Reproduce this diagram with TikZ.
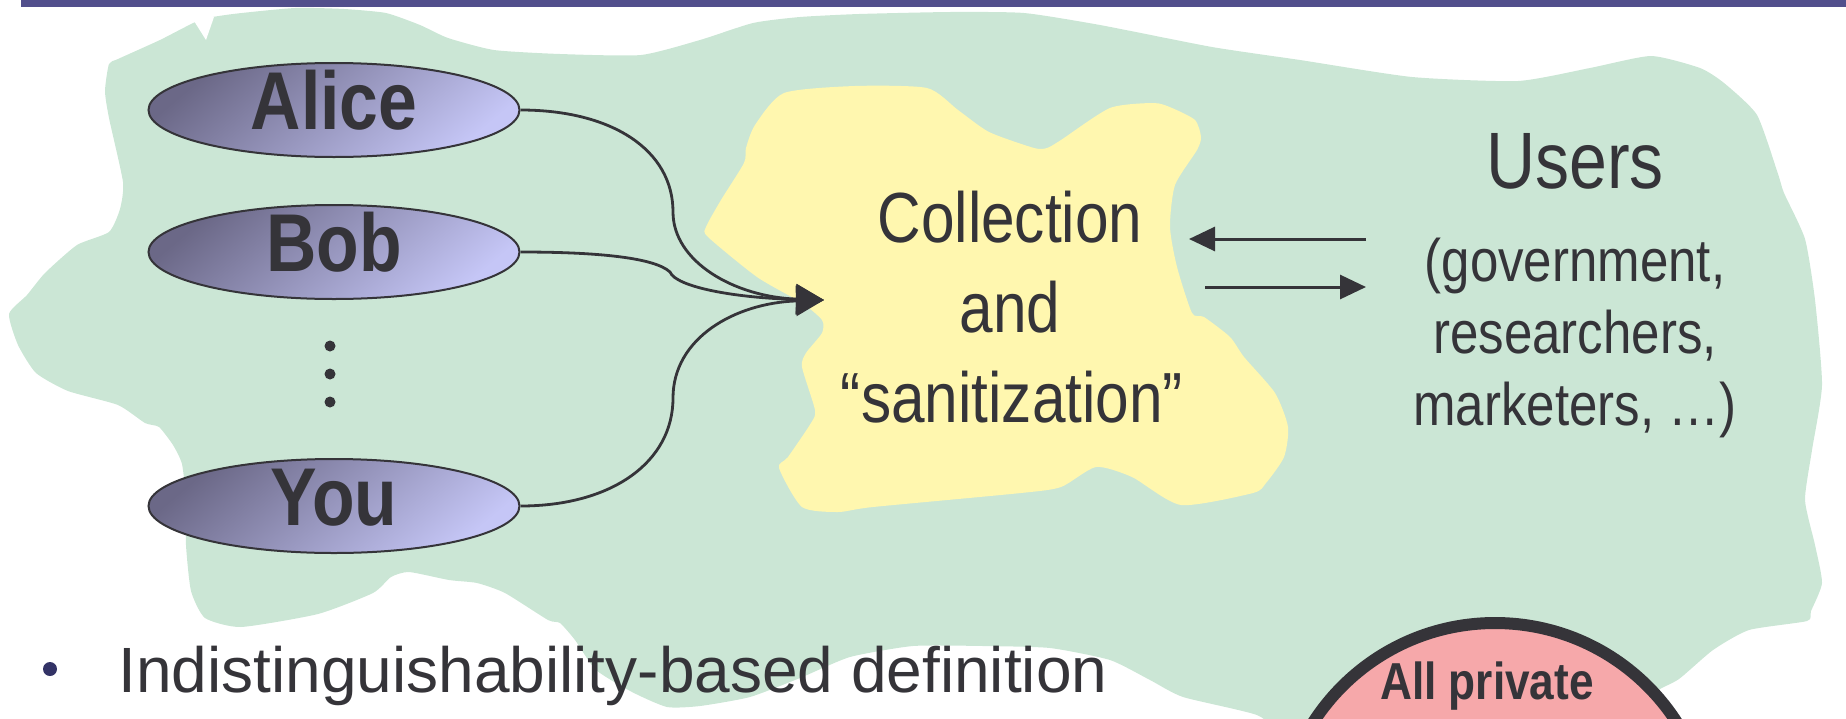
\documentclass[tikz,border=0pt]{standalone}
\usepackage{fontspec}
\setmainfont{Liberation Sans}
\newfontfamily\narrowfont[FakeStretch=0.85]{Liberation Sans}
\usetikzlibrary{arrows.meta,shapes.geometric}

\definecolor{ink}{HTML}{353439}
\definecolor{field}{HTML}{CBE6D5}
\definecolor{cloud}{HTML}{FFF7AF}
\definecolor{banner}{HTML}{524F8C}
\definecolor{rose}{HTML}{F6A8AA}
\definecolor{dotblue}{HTML}{333366}
\definecolor{elldark}{HTML}{6B6887}
\definecolor{elllight}{HTML}{C5C6F6}

\begin{document}
\begin{tikzpicture}[x=0.5pt,y=-0.5pt,
  person/.style={ellipse, draw=ink, line width=1pt, minimum width=185.5pt,
    minimum height=47pt, inner sep=0pt,
    top color=elldark, bottom color=elllight, shading angle=40},
  namelabel/.style={font=\narrowfont\bfseries\fontsize{41}{41}\selectfont,
    text=ink, inner sep=0pt, anchor=base},
  midtext/.style={font=\narrowfont\fontsize{35.5}{40}\selectfont,
    text=ink, inner sep=0pt, anchor=base},
  usertext/.style={font=\narrowfont\fontsize{40}{44}\selectfont,
    text=ink, inner sep=0pt, anchor=base},
  smalltext/.style={font=\narrowfont\fontsize{30}{36}\selectfont,
    text=ink, inner sep=0pt, anchor=base},
  flow/.style={draw=ink, line width=1.4pt, -{Triangle[length=14pt,width=15pt]}},
  pairarrow/.style={draw=ink, line width=1.5pt, -{Triangle[length=13pt,width=12pt]}},
  ddot/.style={circle, fill=ink, inner sep=0pt, minimum size=5.5pt}
]
\useasboundingbox (0,0) rectangle (1846,718);
\clip (0,0) rectangle (1846,718);

% green backdrop
\fill[field] plot[smooth cycle, tension=0.35] coordinates {
  (118,59) (160,40) (200,20) (233,14) (295,8) (344,9) (386,13) (420,25)
  (448,38) (494,50) (560,54) (641,55) (700,40) (753,23) (800,17) (859,14)
  (950,12) (1024,13) (1100,25) (1212,47) (1300,60) (1412,77) (1518,81)
  (1590,68) (1651,56) (1700,68) (1724,83) (1757,115) (1778,174) (1784,193)
  (1805,239) (1815,300) (1822,385) (1812,450) (1805,500) (1815,545)
  (1822,583) (1811,611) (1807,621) (1749,630) (1713,650) (1679,679)
  (1652,694) (1620,730) (1500,760) (1300,740) (1257,715) (1183,697)
  (1150,680) (1110,660) (1050,648) (983,646) (913,646) (850,657) (800,678)
  (750,697) (700,706) (667,707) (632,692) (596,670) (575,640) (560,623)
  (548,620) (505,593) (477,583) (449,580) (409,572) (391,577) (373,593)
  (318,614) (241,627) (205,618) (191,591) (186,545) (186,500) (182,464)
  (173,445) (159,427) (145,423) (118,405) (68,391) (36,373) (18,345)
  (9,314) (27,295) (45,273) (77,245) (109,232) (120,209) (123,182)
  (109,118) (105,91) (109,64)};
\fill[white] (189,13) -- (214,17) -- (206,40) -- cycle;

% title bar
\fill[banner] (21,0) rectangle (1846,7);

% collection cloud
\fill[cloud] plot[smooth cycle, tension=0.4] coordinates {
  (784,93) (855,86) (927,88) (958,110) (989,132) (1034,148) (1047,148)
  (1061,140) (1110,108) (1154,103) (1172,108) (1195,120) (1201,137)
  (1197,150) (1175,185) (1170,227) (1177,267) (1192,313) (1204,317)
  (1230,337) (1244,357) (1275,393) (1288,427) (1284,457) (1266,483)
  (1253,493) (1181,505) (1132,477) (1096,467) (1061,487) (1021,493)
  (873,507) (838,512) (802,507) (779,468) (788,457) (811,423) (815,410)
  (802,367) (806,353) (822,333) (822,320) (802,303) (757,277) (708,237)
  (706,227) (721,200) (744,163) (746,148) (755,125)};

% data owners
\node[person] (alice) at (334,110) {};
\node[person] (bob)   at (334,252) {};
\node[person] (you)   at (334,506) {};
\node[namelabel] (alicetext) at (334,129) {Alice};
\node[namelabel] (bobtext)   at (334,271) {Bob};
\node[namelabel] (youtext)   at (334,525) {You};
\node[ddot] (d1) at (330,346) {};
\node[ddot] (d2) at (330,374) {};
\node[ddot] (d3) at (330,402) {};

% curator text
\node[midtext] (coll1) at (1010,242) {Collection};
\node[midtext] (coll2) at (1010,332) {and};
\node[midtext] (coll3) at (1012,422) {“sanitization”};

% inputs flowing into the curator
\coordinate (hub) at (824,300);
\draw[flow] (alice.east) .. controls (612,110) and (673,150) .. (673,212)
  .. controls (673,262) and (735,297) .. (hub);
\draw[flow] (bob.east) .. controls (600,252) and (655,258) .. (670,272)
  .. controls (676,287) and (735,298) .. (hub);
\draw[flow] (you.east) .. controls (612,506) and (673,462) .. (673,398)
  .. controls (673,338) and (735,303) .. (hub);

% users
\node[usertext] (users) at (1575,188) {Users};
\node[smalltext] (gov) at (1575,281) {(government,};
\node[smalltext] (res) at (1575,353) {researchers,};
\node[smalltext] (mkt) at (1575,425) {marketers, …)};

% query / answer arrows
\coordinate (qfrom) at (1366,239);
\coordinate (qto)   at (1189,239);
\coordinate (afrom) at (1205,287);
\coordinate (ato)   at (1366,287);
\draw[pairarrow] (qfrom) -- (qto);
\draw[pairarrow] (afrom) -- (ato);

% bullet line
\node[circle, fill=dotblue, inner sep=0pt, minimum size=7pt] (bullet) at (50,669) {};
\node[font=\fontsize{32}{38}\selectfont, text=ink, inner sep=0pt, anchor=base west]
  (indist) at (118,692) {Indistinguishability-based definition};

% all-private disc
\node[circle, draw=ink, line width=6pt, fill=rose, minimum size=216pt, inner sep=0pt]
  (disc) at (1495,839) {};
\node[font=\narrowfont\bfseries\fontsize{26}{30}\selectfont, text=ink, inner sep=0pt,
  anchor=base] (alltext) at (1487,699) {All private};
\end{tikzpicture}
\end{document}
